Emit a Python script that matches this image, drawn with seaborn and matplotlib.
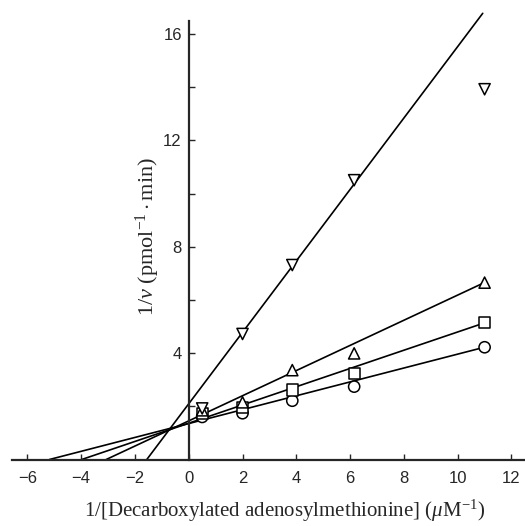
import numpy as np
import pandas as pd
import seaborn as sns
import matplotlib
matplotlib.use('Agg')
import matplotlib.pyplot as plt

# Measured points: 1/[S] (uM^-1) and 1/v for each inhibitor level
inv_s = [0.5, 2.0, 3.85, 6.15, 11.0]
circle_y = [1.60, 1.74, 2.21, 2.74, 4.22]
square_y = [1.72, 1.95, 2.61, 3.24, 5.14]
tri_up_y = [1.85, 2.15, 3.36, 3.99, 6.65]
tri_down_y = [1.92, 4.72, 7.31, 10.50, 13.92]

series = ['circle', 'square', 'tri_up', 'tri_down']
markers = {'circle': 'o', 'square': 's', 'tri_up': '^', 'tri_down': 'v'}

# Fitted lines: x intercept, slope, last x drawn
fit_x0 = [-5.18, -3.98, -3.07, -1.56]
fit_slope = [0.261, 0.343, 0.473, 1.343]
fit_xend = [11.0, 11.0, 11.0, 10.93]

xticks = [-6, -4, -2, 0, 2, 4, 6, 8, 10, 12]
yticks = [4, 8, 12, 16]

sns.set_style('ticks')
plt.rcParams['font.family'] = ['Liberation Sans', 'DejaVu Sans']
plt.rcParams['mathtext.fontset'] = 'custom'
plt.rcParams['mathtext.rm'] = 'Liberation Serif'
plt.rcParams['mathtext.it'] = 'Liberation Serif:italic'

points = pd.DataFrame({
    'x': inv_s * 4,
    'y': circle_y + square_y + tri_up_y + tri_down_y,
    'series': [s for s in series for _ in inv_s],
})

rows = []
for s, x0, k, xe in zip(series, fit_x0, fit_slope, fit_xend):
    for x in (x0, xe):
        rows.append({'x': x, 'y': k * (x - x0), 'series': s})
lines = pd.DataFrame(rows)

fig = plt.figure(figsize=(5.25, 5.26), dpi=100)
ax = fig.add_axes([0.0229, 0.1264, 0.977, 0.8597])

sns.lineplot(data=lines, x='x', y='y', units='series', estimator=None,
             color='black', linewidth=1.2, ax=ax, legend=False)
sns.scatterplot(data=points, x='x', y='y', style='series', markers=markers,
                s=65, facecolor='white', edgecolor='black', linewidth=1.1,
                ax=ax, legend=False, zorder=3)

ax.set_xlim(-6.57, 12.5)
ax.set_ylim(0, 17)

ax.spines['left'].set_position(('data', 0))
ax.spines['bottom'].set_position(('data', 0))
ax.spines['right'].set_visible(False)
ax.spines['top'].set_visible(False)
ax.spines['left'].set_bounds(0, 16.5)
ax.spines['left'].set_linewidth(1.6)
ax.spines['bottom'].set_linewidth(1.6)

ax.set_xticks(xticks)
ax.set_yticks(yticks)
ax.set_yticks([2, 6, 10, 14], minor=True)
ax.tick_params(axis='both', which='both', direction='in', length=4,
               width=1.0, labelsize=12)
ax.tick_params(axis='x', pad=8)
ax.tick_params(axis='y', pad=5)

ax.set_xlabel(r'1/[Decarboxylated adenosylmethionine] ($\mu$M$^{-1}$)',
              family='Liberation Serif', fontsize=15, va='top')
ax.xaxis.set_label_coords(0.532, -0.085)
ax.set_ylabel(r'1/$v$ (pmol$^{-1}\cdot$min)', family='Liberation Serif',
              fontsize=16)
ax.yaxis.set_label_coords(0.292, 0.492)

fig.savefig('out.png', dpi=100)
